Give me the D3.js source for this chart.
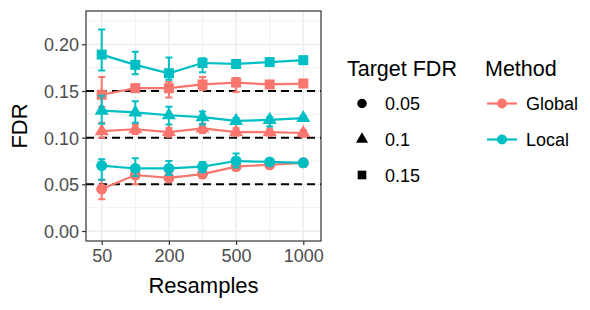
<!DOCTYPE html>
<html>
<head>
<meta charset="utf-8">
<script src="https://cdn.jsdelivr.net/npm/d3@7"></script>
<style>
  body { margin: 0; background: #fff; }
  text { font-family: "Liberation Sans", Arial, sans-serif; }
</style>
</head>
<body>
<svg width="590" height="310"></svg>
<script>
// data
var resamples = ["50", "100", "200", "300", "500", "750", "1000"];
var shownTicks = ["50", "200", "500", "1000"];
var targets = [0.05, 0.1, 0.15];
var methods = ["Global", "Local"];

var global05 = [0.045, 0.060, 0.057, 0.061, 0.069, 0.071, 0.073];
var global05Lo = [0.034, 0.050, 0.053, 0.057, 0.065, 0.068, 0.069];
var global05Hi = [0.055, 0.066, 0.062, 0.065, 0.073, 0.074, 0.077];

var global10 = [0.107, 0.109, 0.106, 0.110, 0.106, 0.106, 0.105];
var global10Lo = [0.100, 0.104, 0.101, 0.105, 0.102, 0.102, 0.101];
var global10Hi = [0.116, 0.114, 0.110, 0.115, 0.110, 0.109, 0.108];

var global15 = [0.146, 0.153, 0.153, 0.157, 0.159, 0.157, 0.158];
var global15Lo = [0.133, 0.149, 0.143, 0.151, 0.149, 0.154, 0.156];
var global15Hi = [0.165, 0.157, 0.160, 0.165, 0.164, 0.160, 0.160];

var local05 = [0.070, 0.067, 0.067, 0.069, 0.075, 0.074, 0.073];
var local05Lo = [0.055, 0.059, 0.060, 0.063, 0.068, 0.071, 0.071];
var local05Hi = [0.077, 0.078, 0.075, 0.074, 0.083, 0.076, 0.075];

var local10 = [0.129, 0.127, 0.124, 0.122, 0.118, 0.119, 0.121];
var local10Lo = [0.115, 0.116, 0.114, 0.114, 0.115, 0.112, 0.119];
var local10Hi = [0.145, 0.139, 0.133, 0.128, 0.121, 0.122, 0.123];

var local15 = [0.189, 0.178, 0.169, 0.180, 0.179, 0.181, 0.183];
var local15Lo = [0.172, 0.168, 0.162, 0.170, 0.175, 0.179, 0.181];
var local15Hi = [0.216, 0.192, 0.186, 0.185, 0.182, 0.183, 0.185];

var yTicks = [0, 0.05, 0.1, 0.15, 0.2];
var yMinor = [0.025, 0.075, 0.125, 0.175, 0.225];

var series = [
  {method: "Global", target: 0.05, v: global05, lo: global05Lo, hi: global05Hi},
  {method: "Global", target: 0.1, v: global10, lo: global10Lo, hi: global10Hi},
  {method: "Global", target: 0.15, v: global15, lo: global15Lo, hi: global15Hi},
  {method: "Local", target: 0.05, v: local05, lo: local05Lo, hi: local05Hi},
  {method: "Local", target: 0.1, v: local10, lo: local10Lo, hi: local10Hi},
  {method: "Local", target: 0.15, v: local15, lo: local15Lo, hi: local15Hi}
];

var svg = d3.select("svg");
var panel = {left: 86, right: 321, top: 11, bottom: 241};

var x = d3.scalePoint().domain(resamples).range([101.7, 303.3]);
var y = d3.scaleLinear().domain([-0.0107, 0.2357]).range([panel.bottom, panel.top]);

var color = d3.scaleOrdinal().domain(methods).range(["#F8766D", "#00BFC4"]);
var shape = d3.scaleOrdinal().domain(targets)
  .range([d3.symbolCircle, d3.symbolTriangle, d3.symbolSquare]);
var shapeSize = d3.scaleOrdinal().domain(targets).range([95, 85, 100]);

// grid
var grid = svg.append("g");
grid.selectAll(".ymin").data(yMinor).enter().append("line")
  .attr("x1", panel.left).attr("x2", panel.right)
  .attr("y1", d => y(d)).attr("y2", d => y(d))
  .attr("stroke", "#EBEBEB").attr("stroke-width", 0.7);
grid.selectAll(".xmin").data(resamples.filter(d => shownTicks.indexOf(d) < 0)).enter().append("line")
  .attr("x1", d => x(d)).attr("x2", d => x(d))
  .attr("y1", panel.top).attr("y2", panel.bottom)
  .attr("stroke", "#EBEBEB").attr("stroke-width", 0.7);
grid.selectAll(".ymaj").data(yTicks).enter().append("line")
  .attr("x1", panel.left).attr("x2", panel.right)
  .attr("y1", d => y(d)).attr("y2", d => y(d))
  .attr("stroke", "#EBEBEB").attr("stroke-width", 1.3);
grid.selectAll(".xmaj").data(shownTicks).enter().append("line")
  .attr("x1", d => x(d)).attr("x2", d => x(d))
  .attr("y1", panel.top).attr("y2", panel.bottom)
  .attr("stroke", "#EBEBEB").attr("stroke-width", 1.3);

// target lines
svg.selectAll(".target").data(targets).enter().append("line")
  .attr("x1", panel.left).attr("x2", panel.right)
  .attr("y1", d => y(d)).attr("y2", d => y(d))
  .attr("stroke", "#000").attr("stroke-width", 2)
  .attr("stroke-dasharray", "8,5");

// series
var line = d3.line().x((d, i) => x(resamples[i])).y(d => y(d));
var g = svg.append("g");
series.forEach(function(s) {
  var c = color(s.method);
  var sg = g.append("g");
  sg.append("path").attr("d", line(s.v))
    .attr("fill", "none").attr("stroke", c).attr("stroke-width", 2.2);
  sg.selectAll(".bar").data(s.v).enter().append("path")
    .attr("d", (d, i) => {
      var cx = x(resamples[i]), a = y(s.hi[i]), b = y(s.lo[i]);
      return "M" + (cx - 3.5) + "," + a + "H" + (cx + 3.5) + "M" + cx + "," + a + "V" + b +
        "M" + (cx - 3.5) + "," + b + "H" + (cx + 3.5);
    })
    .attr("fill", "none").attr("stroke", c).attr("stroke-width", 2);
  sg.selectAll(".pt").data(s.v).enter().append("path")
    .attr("d", d3.symbol().type(shape(s.target)).size(shapeSize(s.target)))
    .attr("transform", (d, i) => "translate(" + x(resamples[i]) + "," + y(d) + ")")
    .attr("fill", c);
});

// border
svg.append("rect")
  .attr("x", panel.left).attr("y", panel.top)
  .attr("width", panel.right - panel.left).attr("height", panel.bottom - panel.top)
  .attr("fill", "none").attr("stroke", "#333333").attr("stroke-width", 1.2);

// axes
var yAxis = svg.append("g").attr("transform", "translate(" + panel.left + ",0)")
  .call(d3.axisLeft(y).tickValues(yTicks).tickSize(4).tickPadding(3)
    .tickFormat(d3.format(".2f")));
var xAxis = svg.append("g").attr("transform", "translate(0," + panel.bottom + ")")
  .call(d3.axisBottom(x).tickValues(shownTicks).tickSize(4).tickPadding(4));
[yAxis, xAxis].forEach(function(a) {
  a.select(".domain").remove();
  a.selectAll("line").attr("stroke", "#333333").attr("stroke-width", 1.2);
  a.selectAll("text").attr("fill", "#4D4D4D").style("font-size", "18px")
    .style("font-family", "Liberation Sans, Arial, sans-serif");
});
yAxis.selectAll("text").attr("dy", "0.36em");
xAxis.selectAll("text").attr("dy", "0.72em");

svg.append("text").attr("x", 203.5).attr("y", 293)
  .attr("text-anchor", "middle").style("font-size", "22px").text("Resamples");
svg.append("text").attr("transform", "translate(27,126)rotate(-90)")
  .attr("text-anchor", "middle").style("font-size", "22px").text("FDR");

// legend: target
var lg1 = svg.append("g");
lg1.append("text").attr("x", 347).attr("y", 76).style("font-size", "21.5px").text("Target FDR");
var legY = d3.scalePoint().domain(targets).range([103.5, 175]);
lg1.selectAll(".k").data(targets).enter().append("path")
  .attr("d", d => d3.symbol().type(shape(d)).size(shapeSize(d) * 0.75)())
  .attr("transform", d => "translate(362," + legY(d) + ")")
  .attr("fill", "#000");
lg1.selectAll(".l").data(targets).enter().append("text")
  .attr("x", 385).attr("y", d => legY(d) + 6.5)
  .style("font-size", "18px").text(d => String(d));

// legend: method
var lg2 = svg.append("g");
lg2.append("text").attr("x", 485).attr("y", 76).style("font-size", "21.5px").text("Method");
var legM = d3.scalePoint().domain(methods).range([103.5, 139.5]);
lg2.selectAll(".kl").data(methods).enter().append("line")
  .attr("x1", 487).attr("x2", 517)
  .attr("y1", d => legM(d)).attr("y2", d => legM(d))
  .attr("stroke", d => color(d)).attr("stroke-width", 2.2);
lg2.selectAll(".kp").data(methods).enter().append("circle")
  .attr("cx", 502).attr("cy", d => legM(d)).attr("r", 5)
  .attr("fill", d => color(d));
lg2.selectAll(".l").data(methods).enter().append("text")
  .attr("x", 526).attr("y", d => legM(d) + 6.5)
  .style("font-size", "18px").text(d => d);
</script>
</body>
</html>
